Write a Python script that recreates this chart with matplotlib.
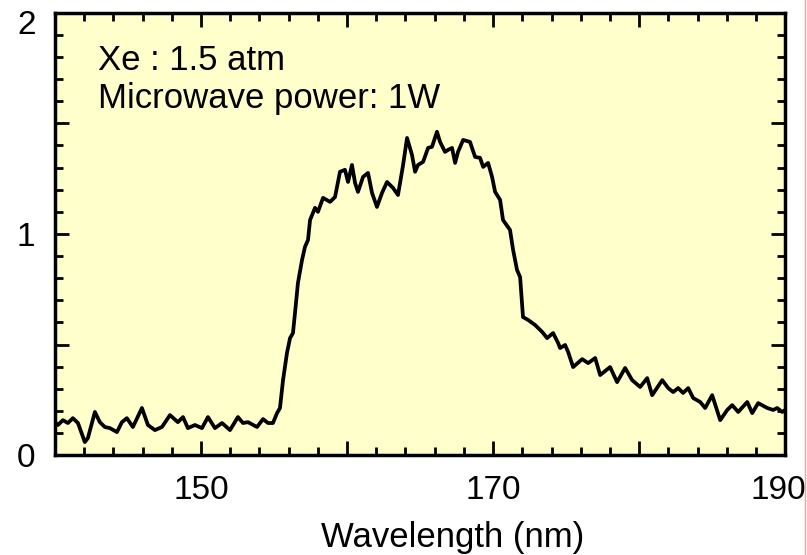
import numpy as np
import matplotlib
matplotlib.use("Agg")
import matplotlib.pyplot as plt
import matplotlib.transforms as mtransforms
from matplotlib.ticker import MultipleLocator
from matplotlib.lines import Line2D

plt.rcParams['font.family'] = ['Liberation Sans', 'DejaVu Sans']

# espectro
Longitud = [140.0, 140.21, 140.55, 140.89, 141.23, 141.58, 142.05, 142.26, 142.74, 143.08,
            143.42, 143.77, 144.25, 144.59, 144.93, 145.34, 145.96, 146.37, 146.85, 147.33,
            147.88, 148.42, 148.77, 149.11, 149.59, 150.07, 150.48, 150.96, 151.44, 151.99,
            152.53, 152.88, 153.22, 153.84, 154.25, 154.59, 154.93, 155.21, 155.41, 155.62,
            155.89, 156.10, 156.30, 156.44, 156.64, 156.92, 157.12, 157.33, 157.47, 157.81,
            158.01, 158.36, 158.84, 159.18, 159.52, 159.86, 160.07, 160.34, 160.55, 160.75,
            161.10, 161.44, 161.71, 162.05, 162.40, 162.74, 163.15, 163.49, 163.84, 164.11,
            164.45, 164.66, 164.86, 165.21, 165.55, 165.82, 166.16, 166.37, 166.71, 166.92,
            167.19, 167.40, 167.60, 167.95, 168.42, 168.77, 169.11, 169.32, 169.66, 169.93,
            170.14, 170.48, 170.68, 171.16, 171.37, 171.64, 171.85, 172.05, 172.40, 172.88,
            173.36, 173.70, 174.11, 174.45, 174.59, 174.93, 175.14, 175.48, 176.10, 176.51,
            176.99, 177.33, 178.01, 178.49, 179.04, 179.52, 180.07, 180.55, 180.89, 181.58,
            181.99, 182.33, 182.67, 183.01, 183.36, 183.70, 184.18, 184.52, 185.00, 185.55,
            186.03, 186.37, 186.78, 187.40, 187.74, 188.15, 188.77, 189.18, 189.45, 189.79,
            190.0]
Intensidad = [0.149, 0.136, 0.158, 0.145, 0.167, 0.145, 0.059, 0.077, 0.195, 0.149,
              0.127, 0.122, 0.104, 0.149, 0.167, 0.127, 0.213, 0.136, 0.113, 0.127,
              0.181, 0.149, 0.172, 0.122, 0.136, 0.122, 0.172, 0.122, 0.145, 0.113,
              0.172, 0.145, 0.149, 0.127, 0.163, 0.145, 0.145, 0.190, 0.213, 0.339,
              0.462, 0.529, 0.552, 0.643, 0.778, 0.882, 0.941, 0.973, 1.063, 1.118,
              1.100, 1.163, 1.145, 1.167, 1.281, 1.290, 1.235, 1.312, 1.231, 1.190,
              1.258, 1.276, 1.186, 1.122, 1.186, 1.235, 1.208, 1.176, 1.312, 1.434,
              1.357, 1.281, 1.312, 1.326, 1.389, 1.394, 1.462, 1.416, 1.371, 1.380,
              1.389, 1.321, 1.371, 1.425, 1.416, 1.348, 1.344, 1.303, 1.321, 1.258,
              1.190, 1.154, 1.063, 1.018, 0.928, 0.837, 0.805, 0.624, 0.611, 0.588,
              0.557, 0.529, 0.552, 0.507, 0.484, 0.498, 0.466, 0.398, 0.434, 0.416,
              0.439, 0.362, 0.398, 0.330, 0.394, 0.339, 0.308, 0.348, 0.271, 0.339,
              0.303, 0.285, 0.303, 0.281, 0.303, 0.258, 0.240, 0.213, 0.271, 0.158,
              0.204, 0.226, 0.195, 0.240, 0.190, 0.235, 0.213, 0.204, 0.213, 0.195,
              0.204]

TicksX = [140, 150, 160, 170, 180, 190]
EtiquetasX = ['', '150', '', '170', '', '190']
TicksY = [0, 0.5, 1, 1.5, 2]
EtiquetasY = ['0', '', '1', '', '2']
Textos = ['Xe : 1.5 atm', 'Microwave power: 1W']

fig = plt.figure(figsize=(8.07, 5.55), dpi=100)
ax = fig.add_axes([0.068, 0.180, 0.905, 0.797])
ax.set_facecolor('#FFFFCC')

ax.plot(Longitud, Intensidad, color='black', linewidth=2.7)

ax.set_xlim(140, 190)
ax.set_ylim(0, 2)
ax.set_xticks(TicksX)
ax.set_xticklabels(EtiquetasX)
ax.set_yticks(TicksY)
ax.set_yticklabels(EtiquetasY)
ax.xaxis.set_minor_locator(MultipleLocator(2))
ax.yaxis.set_minor_locator(MultipleLocator(0.1))

ax.tick_params(which='both', direction='in', top=True, right=True, width=2, labelsize=24)
ax.tick_params(which='major', length=10, pad=14)
ax.tick_params(which='minor', length=6)
for s in ax.spines.values():
    s.set_linewidth(2.5)

# correr etiquetas de los bordes para que no se corten
lab190 = ax.get_xticklabels()[-1]
lab190.set_transform(lab190.get_transform() + mtransforms.ScaledTranslation(-7/100, 0, fig.dpi_scale_trans))
lab2 = ax.get_yticklabels()[-1]
lab2.set_transform(lab2.get_transform() + mtransforms.ScaledTranslation(0, -9/100, fig.dpi_scale_trans))

ax.set_xlabel('Wavelength (nm)', fontsize=25)
ax.xaxis.set_label_coords(0.545, -0.148)

ax.text(0.059, 0.871, Textos[0], transform=ax.transAxes, fontsize=25, va='baseline')
ax.text(0.059, 0.785, Textos[1], transform=ax.transAxes, fontsize=25, va='baseline')

# linea rosada del borde derecho
fig.add_artist(Line2D([0.9975, 0.9975], [0, 1], transform=fig.transFigure,
                      color='#F4A0A0', linewidth=1))

fig.savefig('out.png', dpi=100)
